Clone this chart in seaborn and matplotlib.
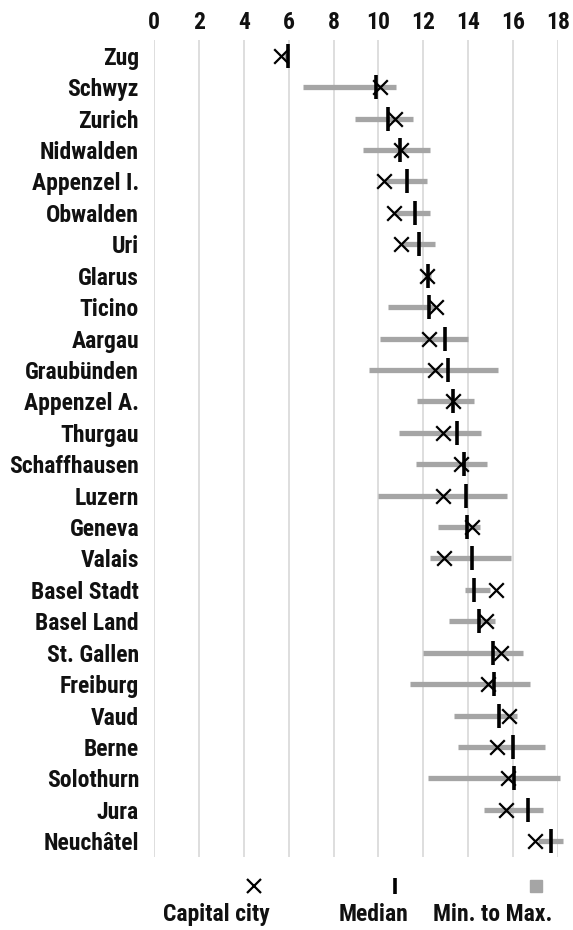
import pandas as pd
import seaborn as sns
import matplotlib.pyplot as plt
from matplotlib import font_manager
from matplotlib.lines import Line2D

# data (years)
cantons = ['Zug', 'Schwyz', 'Zurich', 'Nidwalden', 'Appenzel I.', 'Obwalden', 'Uri',
           'Glarus', 'Ticino', 'Aargau', 'Graubünden', 'Appenzel A.', 'Thurgau',
           'Schaffhausen', 'Luzern', 'Geneva', 'Valais', 'Basel Stadt', 'Basel Land',
           'St. Gallen', 'Freiburg', 'Vaud', 'Berne', 'Solothurn', 'Jura', 'Neuchâtel']
capital = [5.64, 10.08, 10.74, 11.03, 10.25, 10.69, 11.03, 12.17, 12.57, 12.24,
           12.53, 13.35, 12.86, 13.68, 12.86, 14.17, 12.94, 15.26, 14.82, 15.47,
           14.87, 15.83, 15.31, 15.80, 15.69, 16.99]
median = [5.95, 9.87, 10.44, 10.95, 11.27, 11.63, 11.80, 12.20, 12.24, 12.99,
          13.09, 13.35, 13.51, 13.81, 13.89, 13.97, 14.17, 14.28, 14.49, 15.11,
          15.15, 15.39, 16.01, 16.05, 16.68, 17.68]
vmin = [5.80, 6.62, 8.94, 9.31, 10.25, 10.69, 11.06, 12.05, 10.41, 10.08,
        9.59, 11.72, 10.90, 11.67, 10.00, 12.65, 12.29, 13.87, 13.15, 11.99,
        11.39, 13.38, 13.55, 12.20, 14.69, 17.10]
vmax = [5.95, 10.78, 11.55, 12.32, 12.17, 12.32, 12.53, 12.35, 12.53, 14.00,
        15.34, 14.28, 14.59, 14.85, 15.72, 14.54, 15.92, 14.98, 15.18, 16.45,
        16.78, 16.18, 17.43, 18.09, 17.35, 18.25]
legend_labels = ['Capital city', 'Median', 'Min. to Max.']

df = pd.DataFrame({'canton': cantons, 'capital': capital, 'median': median,
                   'min': vmin, 'max': vmax})

sns.set_style('white')

# narrow font if there is one, else Lato
installed = {f.name for f in font_manager.fontManager.ttflist}
narrow = [n for n in ['Liberation Sans Narrow', 'Roboto Condensed', 'Open Sans Condensed',
                      'DejaVu Sans Condensed', 'Noto Sans Condensed'] if n in installed]
plt.rcParams['font.family'] = (narrow[:1] or ['Lato']) + ['DejaVu Sans']
plt.rcParams['font.weight'] = 'bold'

grey = '#a5a5a5'
fs = 17
fig = plt.figure(figsize=(5.73, 9.3), dpi=100)
ax = fig.add_axes([0.2693, 0.0785, 0.704, 0.8785])

# min to max range
ax.hlines(df['canton'], df['min'], df['max'], color=grey, lw=3.8, zorder=2, clip_on=False)

# capital city
sns.scatterplot(data=df, x='capital', y='canton', marker='x', s=110, color='black',
                linewidth=1.6, ax=ax, zorder=3, clip_on=False)
# median
sns.scatterplot(data=df, x='median', y='canton', marker='|', s=280, color='black',
                linewidth=2.6, ax=ax, zorder=4, clip_on=False)

ax.set_xlim(0, 18)
ax.set_ylim(len(cantons) - 0.5, -0.5)
ax.set_xticks(range(0, 19, 2))
ax.xaxis.tick_top()
ax.grid(axis='x', color='#d4d4d4', lw=1.1)
ax.grid(axis='y', visible=False)
for s in ax.spines.values():
    s.set_visible(False)
ax.tick_params(axis='both', length=0, labelsize=fs, colors='#111111')
ax.tick_params(axis='x', pad=4)
ax.tick_params(axis='y', pad=11)
ax.set_xlabel('')
ax.set_ylabel('')

# legend below the plot: symbol above each label
marker_x = [254 / 573, 395 / 573, 536 / 573]
label_x = [216 / 573, 374 / 573, 493 / 573]
fig.add_artist(Line2D([marker_x[0]], [1 - 886 / 930], marker='x', ls='', color='black',
                      ms=10, mew=1.6))
fig.add_artist(Line2D([marker_x[1]], [1 - 886 / 930], marker='|', ls='', color='black',
                      ms=12, mew=2.6))
fig.add_artist(Line2D([marker_x[2]], [1 - 886 / 930], marker='s', ls='', color=grey,
                      mec=grey, ms=8))
for lx, lab in zip(label_x, legend_labels):
    fig.text(lx, 1 - 914 / 930, lab, ha='center', va='center', fontsize=fs,
             fontweight='bold', color='#111111')

fig.savefig('out.png', dpi=100)
